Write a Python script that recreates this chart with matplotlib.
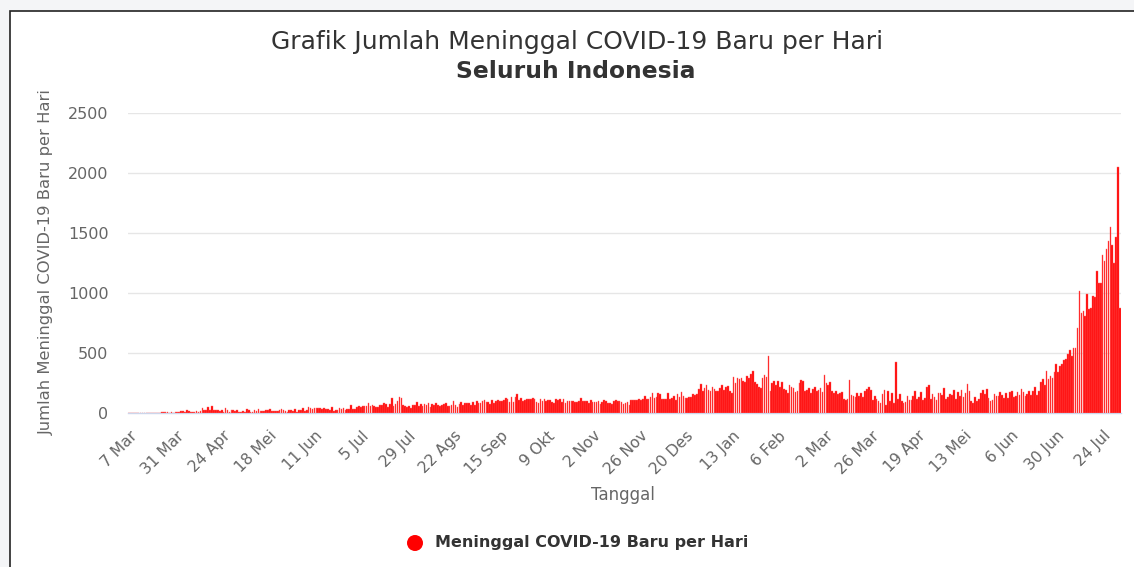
import matplotlib
matplotlib.use("Agg")
import matplotlib.pyplot as plt
import matplotlib.transforms as mtransforms
from matplotlib.patches import Rectangle, Ellipse
import pandas as pd

# daily new deaths, Indonesia, one list per month
mar_2020 = [0, 0, 0, 0, 0, 0, 0, 0, 0, 1, 0, 3, 1, 1, 0, 1, 2, 6, 7, 6,
            10, 1, 7, 3, 6, 8, 9, 14, 15, 8]
apr_2020 = [21, 13, 11, 11, 10, 18, 12, 19, 40, 26, 26, 46, 26, 60, 23, 24, 27, 13, 26, 12,
            44, 21, 8, 24, 27, 17, 28, 11, 5, 13]
may_2020 = [7, 32, 25, 5, 9, 27, 13, 35, 15, 20, 16, 23, 28, 36, 15, 16, 18, 20, 24, 33,
            24, 20, 11, 23, 21, 19, 37, 10, 22, 22, 38]
jun_2020 = [14, 23, 52, 41, 37, 41, 39, 40, 41, 32, 41, 35, 34, 28, 46, 18, 28, 21, 38, 37,
            43, 24, 33, 34, 63, 35, 37, 53, 58, 51]
jul_2020 = [56, 60, 55, 82, 57, 66, 61, 47, 50, 70, 68, 87, 71, 52, 76, 124, 60, 77, 96, 137,
            127, 69, 61, 50, 58, 41, 63, 63, 88, 57, 74]
aug_2020 = [62, 74, 63, 84, 50, 73, 65, 81, 67, 61, 64, 79, 83, 59, 61, 64, 97, 69, 53, 78,
            92, 63, 82, 85, 81, 69, 88, 65, 103, 87, 86]
sep_2020 = [100, 106, 89, 90, 71, 105, 85, 100, 107, 101, 96, 112, 122, 118, 92, 131, 91, 135, 157, 106,
            124, 104, 108, 114, 116, 120, 129, 115, 92, 87]
oct_2020 = [116, 97, 117, 100, 106, 108, 95, 86, 113, 108, 118, 93, 120, 80, 101, 103, 101, 104, 89, 91,
            101, 123, 98, 101, 100, 85, 107, 95, 90, 93, 100]
nov_2020 = [74, 94, 106, 104, 86, 87, 79, 101, 105, 103, 97, 94, 76, 85, 95, 70, 110, 109, 110, 107,
            116, 110, 118, 141, 116, 115, 130, 169, 123, 130]
dec_2020 = [167, 156, 118, 117, 115, 169, 116, 125, 143, 110, 155, 130, 175, 145, 123, 124, 135, 130, 160, 150,
            155, 200, 245, 180, 210, 235, 195, 180, 220, 200, 185]
jan_2021 = [181, 210, 230, 190, 220, 224, 187, 170, 302, 250, 295, 280, 290, 265, 255, 310, 290, 325, 346, 262,
            240, 220, 205, 290, 315, 300, 476, 180, 250, 270, 230]
feb_2021 = [265, 215, 258, 200, 190, 170, 230, 220, 205, 175, 185, 250, 275, 265, 180, 190, 210, 170, 200, 215,
            185, 195, 210, 175, 315, 250, 235, 255]
mar_2021 = [180, 165, 185, 160, 170, 175, 115, 105, 120, 277, 150, 140, 130, 165, 145, 170, 135, 185, 200, 215,
            190, 110, 143, 120, 100, 85, 155, 195, 70, 185, 100]
apr_2021 = [165, 85, 423, 120, 160, 100, 80, 95, 145, 105, 110, 140, 180, 115, 130, 175, 105, 125, 215, 230,
            120, 160, 135, 105, 165, 170, 150, 205, 115, 130]
may_2021 = [160, 150, 190, 120, 175, 145, 195, 130, 165, 245, 180, 100, 85, 130, 100, 115, 170, 190, 160, 200,
            125, 100, 110, 155, 140, 140, 172, 150, 122, 164, 122]
jun_2021 = [172, 186, 136, 144, 172, 150, 197, 172, 144, 160, 185, 150, 186, 220, 150, 186, 256, 280, 233, 353,
            280, 311, 289, 339, 408, 339, 394, 405, 442, 450]
jul_2021 = [492, 525, 478, 539, 539, 712, 1020, 831, 853, 812, 990, 865, 878, 976, 970, 1184, 1081, 1081, 1318, 1268,
            1365, 1437, 1554, 1396, 1248, 1465, 2046, 878]

start_date = "2020-03-02"
tick_labels = ["7 Mar", "31 Mar", "24 Apr", "18 Mei", "11 Jun", "5 Jul", "29 Jul", "22 Ags",
               "15 Sep", "9 Okt", "2 Nov", "26 Nov", "20 Des", "13 Jan", "6 Feb", "2 Mar",
               "26 Mar", "19 Apr", "13 Mei", "6 Jun", "30 Jun", "24 Jul"]
y_ticks = [0, 500, 1000, 1500, 2000, 2500]

deaths = (mar_2020 + apr_2020 + may_2020 + jun_2020 + jul_2020 + aug_2020 + sep_2020
          + oct_2020 + nov_2020 + dec_2020 + jan_2021 + feb_2021 + mar_2021 + apr_2021
          + may_2021 + jun_2021 + jul_2021)
dates = pd.date_range(start_date, periods=len(deaths), freq="D")
tick_dates = pd.date_range("2020-03-07", periods=len(tick_labels), freq="24D")

W, H = 1134, 567
plt.rcParams["font.family"] = ["DejaVu Sans"]
fig = plt.figure(figsize=(W / 100, H / 100), dpi=100, facecolor="#f4f5f7")

# white panel with dark frame, as in the screenshot
panel = Rectangle((10 / W, -0.05), 1.1, 1 - 11 / H + 0.05, transform=fig.transFigure,
                  facecolor="white", edgecolor="#222222", linewidth=1.2, zorder=-10)
fig.add_artist(panel)

ax = fig.add_axes([128 / W, 1 - 413 / H, (1121 - 128) / W, 300 / H])
ax.set_zorder(5)
ax.set_facecolor("none")

ax.bar(dates, deaths, width=0.85, color="#ff0000", edgecolor="#ff6b6b", linewidth=0.3, zorder=3)

ax.set_xlim(dates[0] - pd.Timedelta(hours=12), dates[-1] + pd.Timedelta(hours=12))
ax.set_ylim(0, 2500)
ax.set_yticks(y_ticks)
ax.set_yticklabels([str(v) for v in y_ticks], color="#666666", fontsize=11.5)
ax.set_xticks(tick_dates)
ax.set_xticklabels(tick_labels, rotation=45, ha="right", rotation_mode="anchor",
                   color="#666666", fontsize=11.2)
ax.tick_params(axis="both", length=0)
ax.tick_params(axis="y", pad=14)
ax.tick_params(axis="x", pad=11)

# Highcharts places the rotated labels a little left of the tick
shift = mtransforms.ScaledTranslation(-9 / 100, 0, fig.dpi_scale_trans)
for lbl in ax.get_xticklabels():
    lbl.set_transform(lbl.get_transform() + shift)

ax.grid(axis="y", color="#e6e6e6", linewidth=1, zorder=0)
for side in ["top", "right", "left"]:
    ax.spines[side].set_visible(False)
ax.spines["bottom"].set_color("#ccd6eb")
ax.spines["bottom"].set_linewidth(1)

fig.text(577 / W, 1 - 42 / H, "Grafik Jumlah Meninggal COVID-19 Baru per Hari",
         ha="center", va="center", fontsize=18, color="#333333")
fig.text(576 / W, 1 - 72 / H, "Seluruh Indonesia",
         ha="center", va="center", fontsize=16.8, fontweight="bold", color="#333333")
fig.text(46 / W, 1 - 262 / H, "Jumlah Meninggal COVID-19 Baru per Hari", rotation=90,
         ha="center", va="center", fontsize=11.8, color="#666666")
fig.text(623 / W, 1 - 495 / H, "Tanggal", ha="center", va="center", fontsize=12, color="#666666")

# legend
fig.add_artist(Ellipse((415 / W, 1 - 543 / H), 16 / W, 16 / H, transform=fig.transFigure,
                       facecolor="#ff0000", edgecolor="none"))
fig.text(435 / W, 1 - 543 / H, "Meninggal COVID-19 Baru per Hari", ha="left", va="center",
         fontsize=11.5, fontweight="bold", color="#333333")

fig.savefig("out.png", dpi=100, facecolor=fig.get_facecolor())
